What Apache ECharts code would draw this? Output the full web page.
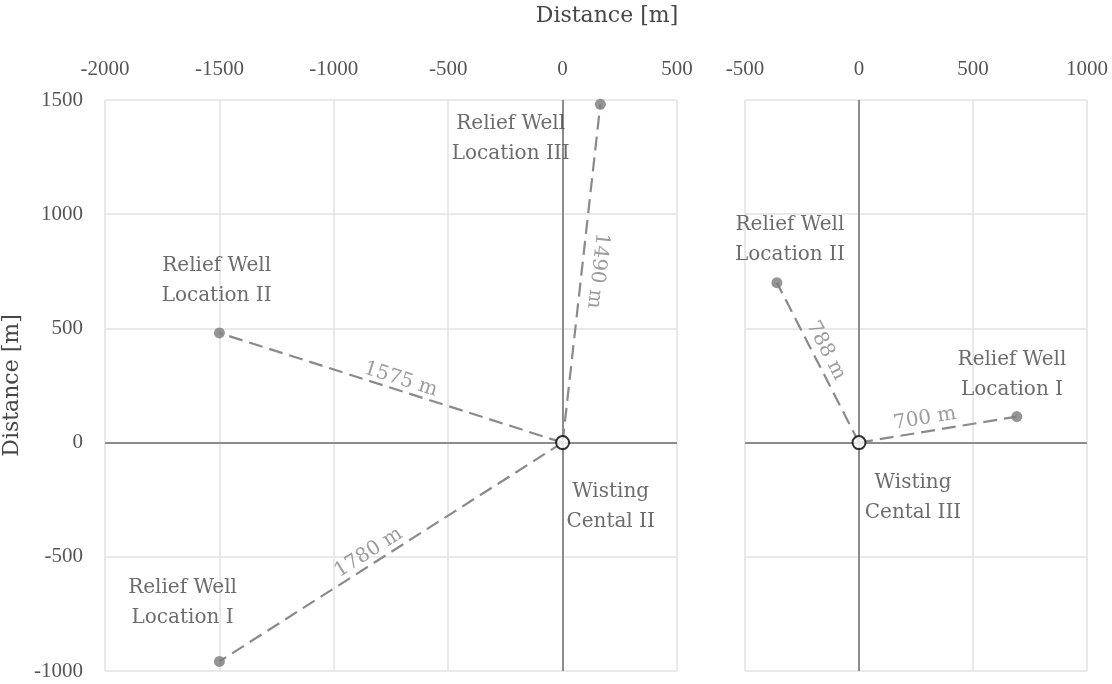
<!DOCTYPE html>
<html>
<head>
<meta charset="utf-8">
<script src="https://cdn.jsdelivr.net/npm/echarts@6/dist/echarts.min.js"></script>
<style>
  html, body { margin: 0; padding: 0; background: #fff; }
  #chart { width: 1112px; height: 684px; }
</style>
</head>
<body>
<div id="chart"></div>
<script>
  // ---- data ----
  const xTicksLeft = [-2000, 500]
  const xTicksRight = [-500, 1000]
  const yTicks = [-1000, 1500]

  // left panel: Wisting Cental II at origin
  const leftWells = [[-1500, -958], [-1500, 480], [165, 1481]]
  const leftWellNames = ['Relief Well\nLocation I', 'Relief Well\nLocation II', 'Relief Well\nLocation III']
  const leftDistances = ['1780 m', '1575 m', '1490 m']
  const leftCenterName = 'Wisting\nCental II'

  // right panel: Wisting Cental III at origin
  const rightWells = [[692, 114], [-360, 700]]
  const rightWellNames = ['Relief Well\nLocation I', 'Relief Well\nLocation II']
  const rightDistances = ['700 m', '788 m']
  const rightCenterName = 'Wisting\nCental III'

  // annotation anchors (data coords of label centres)
  const leftNamePos = [[-1661, -700], [-1512, 710], [-227, 1331]]
  const leftCenterNamePos = [210, -280]
  const leftDistPos = [[-848, -482], [-708, 276], [153, 753]]
  const leftDistFlip = [false, false, true]
  const rightNamePos = [[671, 298], [-303, 889]]
  const rightCenterNamePos = [237, -241]
  const rightDistPos = [[289, 105], [-145, 403]]
  const rightDistFlip = [false, false]

  const textColor = '#474747'
  const lineGray = '#8a8a8a'
  const serif = '"DejaVu Serif", serif'
  const numFont = '"Liberation Serif", serif'

  const chart = echarts.init(document.getElementById('chart'))

  const splitLine = { show: true, lineStyle: { color: '#e2e2e2', width: 1.5 } }

  const makeX = (ticks, gridIndex) => ({
    type: 'value',
    gridIndex,
    position: 'top',
    min: ticks[0],
    max: ticks[1],
    interval: 500,
    axisLine: { show: false },
    axisTick: { show: false },
    splitLine,
    axisLabel: { color: '#555', fontFamily: numFont, fontSize: 21, margin: 20, formatter: (v) => String(v) }
  })

  const makeY = (gridIndex, showLabels) => ({
    type: 'value',
    gridIndex,
    min: yTicks[0],
    max: yTicks[1],
    interval: 500,
    axisLine: { show: false },
    axisTick: { show: false },
    splitLine,
    axisLabel: { show: showLabels, color: '#555', fontFamily: numFont, fontSize: 21, margin: 22, formatter: (v) => String(v) },
    name: showLabels ? 'Distance [m]' : '',
    nameLocation: 'middle',
    nameGap: 80,
    nameTextStyle: { color: textColor, fontFamily: serif, fontSize: 22 }
  })

  const angleOf = (p, flip) => {
    let a = Math.atan(p[1] / p[0]) * 180 / Math.PI
    if (flip) a -= 180
    return a
  }

  // build series for one panel
  const panelSeries = (idx, wells, names, dists, namePos, centerName, centerPos, distPos, flips) => {
    const list = []
    wells.forEach((w) => {
      list.push({
        type: 'line',
        xAxisIndex: idx,
        yAxisIndex: idx,
        data: [[0, 0], w],
        showSymbol: false,
        silent: true,
        z: 3,
        lineStyle: { color: lineGray, width: 2.2, type: [14, 7] }
      })
    })
    // relief well dots
    list.push({
      type: 'scatter',
      xAxisIndex: idx,
      yAxisIndex: idx,
      data: wells,
      symbolSize: 11,
      z: 4,
      itemStyle: { color: '#7a7a7a' }
    })
    // centre + zero axes
    list.push({
      type: 'scatter',
      xAxisIndex: idx,
      yAxisIndex: idx,
      data: [[0, 0]],
      symbolSize: 13,
      z: 5,
      itemStyle: { color: '#fff', borderColor: '#000', borderWidth: 2 },
      markLine: {
        silent: true,
        symbol: ['none', 'none'],
        label: { show: false },
        z: 2,
        lineStyle: { color: '#8c8c8c', width: 2, type: 'solid' },
        data: [{ xAxis: 0 }, { yAxis: 0 }]
      }
    })
    // name labels
    const nameData = namePos.map((p, i) => ({ value: p, name: names[i] }))
    nameData.push({ value: centerPos, name: centerName })
    list.push({
      type: 'scatter',
      xAxisIndex: idx,
      yAxisIndex: idx,
      data: nameData,
      symbolSize: 0,
      silent: true,
      z: 6,
      label: {
        show: true,
        position: 'inside',
        formatter: (p) => p.name,
        color: textColor,
        fontFamily: serif,
        fontSize: 20,
        lineHeight: 30,
        align: 'center'
      }
    })
    // distance labels
    list.push({
      type: 'scatter',
      xAxisIndex: idx,
      yAxisIndex: idx,
      data: distPos.map((p, i) => ({
        value: p,
        name: dists[i],
        label: { rotate: angleOf(wells[i], flips[i]) }
      })),
      symbolSize: 0,
      silent: true,
      z: 6,
      label: {
        show: true,
        position: 'inside',
        formatter: (p) => p.name,
        color: '#858585',
        fontFamily: serif,
        fontSize: 20
      }
    })
    return list
  }

  const option = {
    animation: false,
    backgroundColor: '#fff',
    title: {
      text: 'Distance [m]',
      left: 602,
      top: 0,
      textAlign: 'center',
      textStyle: { color: textColor, fontFamily: serif, fontSize: 22, fontWeight: 'normal' }
    },
    grid: [
      { left: 105, right: 435, top: 100, bottom: 13, outerBoundsMode: 'none' },
      { left: 745, right: 25, top: 100, bottom: 13, outerBoundsMode: 'none' }
    ],
    xAxis: [makeX(xTicksLeft, 0), makeX(xTicksRight, 1)],
    yAxis: [makeY(0, true), makeY(1, false)],
    series: [
      ...panelSeries(0, leftWells, leftWellNames, leftDistances, leftNamePos, leftCenterName, leftCenterNamePos, leftDistPos, leftDistFlip),
      ...panelSeries(1, rightWells, rightWellNames, rightDistances, rightNamePos, rightCenterName, rightCenterNamePos, rightDistPos, rightDistFlip)
    ]
  }

  chart.setOption(option)
</script>
</body>
</html>
